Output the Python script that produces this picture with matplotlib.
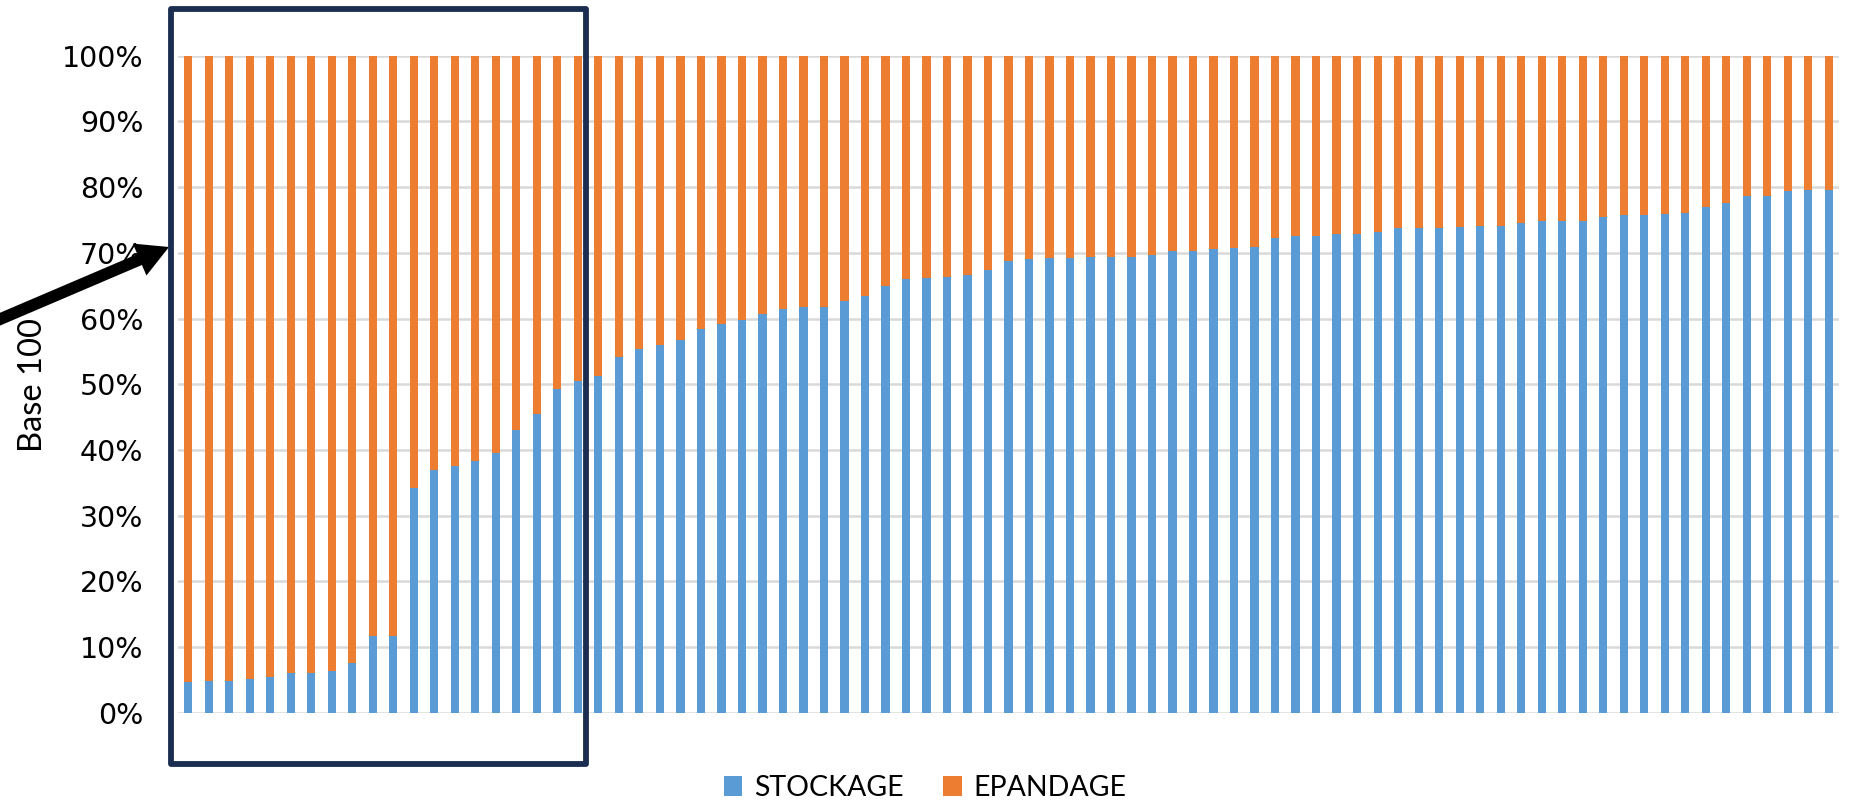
import matplotlib
matplotlib.use("Agg")
import matplotlib.pyplot as plt
import numpy as np
from matplotlib.patches import Rectangle

# part du stockage (en %) pour chaque exploitation, triee
stockage = [4.7, 4.9, 4.9, 5.2, 5.4, 6.0, 6.0, 6.4, 7.5, 11.6,
            11.6, 34.2, 37.0, 37.6, 38.3, 39.6, 43.1, 45.5, 49.2, 50.5,
            51.2, 54.2, 55.3, 55.9, 56.8, 58.4, 59.2, 59.7, 60.7, 61.4,
            61.7, 61.8, 62.7, 63.4, 65.0, 66.0, 66.1, 66.3, 66.6, 67.4,
            68.7, 69.1, 69.2, 69.2, 69.3, 69.3, 69.4, 69.6, 70.2, 70.2,
            70.6, 70.8, 70.9, 72.3, 72.5, 72.6, 72.8, 72.8, 73.2, 73.7,
            73.7, 73.8, 73.9, 74.1, 74.1, 74.6, 74.8, 74.9, 74.9, 75.5,
            75.7, 75.8, 75.9, 76.1, 77.0, 77.6, 78.7, 78.7, 79.4, 79.5,
            79.5]
epandage = [100 - v for v in stockage]
series_names = ["STOCKAGE", "EPANDAGE"]
yticks = [0, 10, 20, 30, 40, 50, 60, 70, 80, 90, 100]

W, H = 1850, 805
fig = plt.figure(figsize=(W / 100, H / 100), dpi=100)
ax = fig.add_axes([178 / W, 1 - 712.7 / H, (1839 - 178) / W, (712.7 - 55.7) / H])

x = np.arange(len(stockage))
s = np.array(stockage) / 100
e = np.array(epandage) / 100
ax.bar(x, s, width=0.4, color="#5B9BD5", label=series_names[0], zorder=3)
ax.bar(x, e, width=0.4, bottom=s, color="#ED7D31", label=series_names[1], zorder=3)

ax.set_xlim(-0.5, len(stockage) - 0.5)
ax.set_ylim(0, 1)
ax.set_yticks([t / 100 for t in yticks])
ax.set_yticklabels([f"{t}%" for t in yticks], fontsize=20.5, family="DejaVu Sans")
ax.tick_params(axis="y", length=0, pad=25)
ax.set_xticks([])
ax.grid(axis="y", color="#D9D9D9", lw=1.8, zorder=0)
for sp in ax.spines.values():
    sp.set_visible(False)

fig.text(33 / W, 1 - 385 / H, "Base 100", rotation=90, fontsize=23.5,
         family="Lato", ha="center", va="center")

# cadre autour des premieres exploitations
fig.add_artist(Rectangle((171 / W, 1 - 764 / H), 415 / W, 755 / H,
                         transform=fig.transFigure, fill=False,
                         edgecolor="#1B2D50", lw=4.2, joinstyle="round"))

# fleche noire
ax.annotate("", xy=(169, H - 247), xycoords="figure pixels",
            xytext=(-30, H - 332), textcoords="figure pixels",
            arrowprops=dict(arrowstyle="simple,head_length=2.3,head_width=2.5,tail_width=0.85",
                            lw=0, color="black", mutation_scale=10,
                            shrinkA=0, shrinkB=0),
            annotation_clip=False)

fig.legend(loc="center", bbox_to_anchor=(0.5, 1 - 788 / H), ncol=2,
           frameon=False, prop={"family": "Lato", "size": 20.5},
           handlelength=0.65, handleheight=0.65, handletextpad=0.4,
           columnspacing=1.4)

fig.savefig("out.png", dpi=100)
